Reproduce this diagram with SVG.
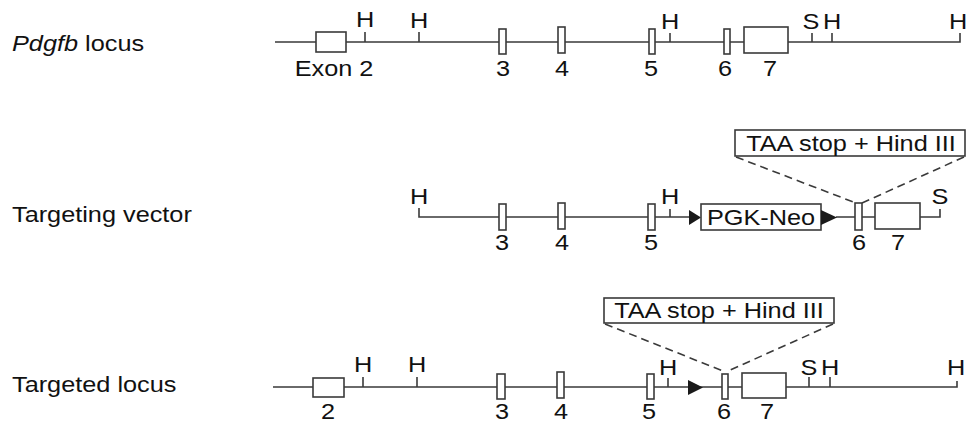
<svg xmlns="http://www.w3.org/2000/svg" width="967" height="423" viewBox="0 0 967 423">
<style>
.bb{fill:none;stroke:#3a3a3a;stroke-width:1.6}
.ex{fill:#fff;stroke:#3a3a3a;stroke-width:1.6}
.tk{stroke:#3a3a3a;stroke-width:1.6}
.ar{fill:#1a1a1a}
.ds{fill:none;stroke:#3a3a3a;stroke-width:1.6;stroke-dasharray:8 5}
text{font-family:"Liberation Sans",Arial,sans-serif;font-size:22px;fill:#111}
.c{text-anchor:middle}
</style>
<rect width="967" height="423" fill="#fff"/>

<g id="row-labels">
  <text transform="matrix(1.15 0 0 1 12 51)"><tspan font-style="italic">Pdgfb</tspan> locus</text>
  <text transform="matrix(1.15 0 0 1 12 222)">Targeting vector</text>
  <text transform="matrix(1.15 0 0 1 12 392)">Targeted locus</text>
</g>

<g id="connectors">
  <line class="ds" x1="736" y1="157" x2="856" y2="203"/>
  <line class="ds" x1="964" y1="157" x2="862" y2="203"/>
  <line class="ds" x1="605" y1="324" x2="723" y2="371"/>
  <line class="ds" x1="833" y1="324" x2="728" y2="371"/>
</g>

<g id="pdgfb-locus">
  <path class="bb" d="M275 42H960V33"/>
  <line class="tk" x1="365" y1="32" x2="365" y2="42"/>
  <line class="tk" x1="419" y1="32" x2="419" y2="42"/>
  <line class="tk" x1="670" y1="33" x2="670" y2="42"/>
  <line class="tk" x1="812" y1="33" x2="812" y2="42"/>
  <line class="tk" x1="832" y1="33" x2="832" y2="42"/>
  <rect class="ex" x="316" y="32" width="30" height="20"/>
  <rect class="ex" x="499" y="29" width="7" height="25"/>
  <rect class="ex" x="558" y="27" width="7" height="26"/>
  <rect class="ex" x="649" y="29" width="6" height="25"/>
  <rect class="ex" x="724" y="29" width="6" height="25"/>
  <rect class="ex" x="744" y="27" width="44" height="26"/>
  <text class="c" transform="matrix(1.15 0 0 1 365 27)">H</text>
  <text class="c" transform="matrix(1.15 0 0 1 419 28)">H</text>
  <text class="c" transform="matrix(1.15 0 0 1 670 29)">H</text>
  <text class="c" transform="matrix(1.15 0 0 1 811 29)">S</text>
  <text class="c" transform="matrix(1.15 0 0 1 832 29)">H</text>
  <text class="c" transform="matrix(1.15 0 0 1 958 29)">H</text>
  <text class="c" transform="matrix(1.15 0 0 1 334 76)">Exon 2</text>
  <text class="c" transform="matrix(1.15 0 0 1 503 76)">3</text>
  <text class="c" transform="matrix(1.15 0 0 1 562 76)">4</text>
  <text class="c" transform="matrix(1.15 0 0 1 651 76)">5</text>
  <text class="c" transform="matrix(1.15 0 0 1 725 76)">6</text>
  <text class="c" transform="matrix(1.15 0 0 1 770 76)">7</text>
</g>

<g id="targeting-vector">
  <path class="bb" d="M419 208V217H690"/>
  <path class="bb" d="M836 217H940V209"/>
  <line class="tk" x1="670" y1="209" x2="670" y2="217"/>
  <rect class="ex" x="499" y="204" width="7" height="26"/>
  <rect class="ex" x="558" y="203" width="7" height="26"/>
  <rect class="ex" x="648" y="204" width="7" height="26"/>
  <path class="ar" d="M689 210L701 217.5L689 225Z"/>
  <g id="pgk-neo">
    <rect class="ex" x="701" y="204" width="120" height="26"/>
    <text class="c" transform="matrix(1.15 0 0 1 761 225)">PGK-Neo</text>
  </g>
  <path class="ar" d="M821 210L837 217.5L821 225Z"/>
  <rect class="ex" x="855" y="203" width="7" height="27"/>
  <rect class="ex" x="875" y="203" width="45" height="26"/>
  <g id="taa-box-vector">
    <rect class="ex" x="735" y="130" width="230" height="26"/>
    <text class="c" transform="matrix(1.15 0 0 1 851 151)">TAA stop + Hind III</text>
  </g>
  <text class="c" transform="matrix(1.15 0 0 1 419 204)">H</text>
  <text class="c" transform="matrix(1.15 0 0 1 670 204)">H</text>
  <text class="c" transform="matrix(1.15 0 0 1 940 204)">S</text>
  <text class="c" transform="matrix(1.15 0 0 1 502 250)">3</text>
  <text class="c" transform="matrix(1.15 0 0 1 562 250)">4</text>
  <text class="c" transform="matrix(1.15 0 0 1 651 250)">5</text>
  <text class="c" transform="matrix(1.15 0 0 1 859 250)">6</text>
  <text class="c" transform="matrix(1.15 0 0 1 898 250)">7</text>
</g>

<g id="targeted-locus">
  <path class="bb" d="M273 387H957V381"/>
  <line class="tk" x1="363" y1="377" x2="363" y2="387"/>
  <line class="tk" x1="417" y1="377" x2="417" y2="387"/>
  <line class="tk" x1="668" y1="378" x2="668" y2="387"/>
  <line class="tk" x1="809" y1="377" x2="809" y2="387"/>
  <line class="tk" x1="830" y1="377" x2="830" y2="387"/>
  <rect class="ex" x="313" y="378" width="31" height="19"/>
  <rect class="ex" x="497" y="374" width="8" height="25"/>
  <rect class="ex" x="557" y="372" width="7" height="26"/>
  <rect class="ex" x="647" y="374" width="7" height="25"/>
  <path class="ar" d="M688 380L703 387.5L688 395Z"/>
  <rect class="ex" x="722" y="374" width="6" height="25"/>
  <rect class="ex" x="742" y="373" width="44" height="25"/>
  <g id="taa-box-locus">
    <rect class="ex" x="604" y="298" width="230" height="25"/>
    <text class="c" transform="matrix(1.15 0 0 1 719 318)">TAA stop + Hind III</text>
  </g>
  <text class="c" transform="matrix(1.15 0 0 1 363 372)">H</text>
  <text class="c" transform="matrix(1.15 0 0 1 417 372)">H</text>
  <text class="c" transform="matrix(1.15 0 0 1 668 375)">H</text>
  <text class="c" transform="matrix(1.15 0 0 1 809 375)">S</text>
  <text class="c" transform="matrix(1.15 0 0 1 830 375)">H</text>
  <text class="c" transform="matrix(1.15 0 0 1 956 375)">H</text>
  <text class="c" transform="matrix(1.15 0 0 1 328 419)">2</text>
  <text class="c" transform="matrix(1.15 0 0 1 502 419)">3</text>
  <text class="c" transform="matrix(1.15 0 0 1 561 419)">4</text>
  <text class="c" transform="matrix(1.15 0 0 1 649 419)">5</text>
  <text class="c" transform="matrix(1.15 0 0 1 724 419)">6</text>
  <text class="c" transform="matrix(1.15 0 0 1 767 419)">7</text>
</g>
</svg>
